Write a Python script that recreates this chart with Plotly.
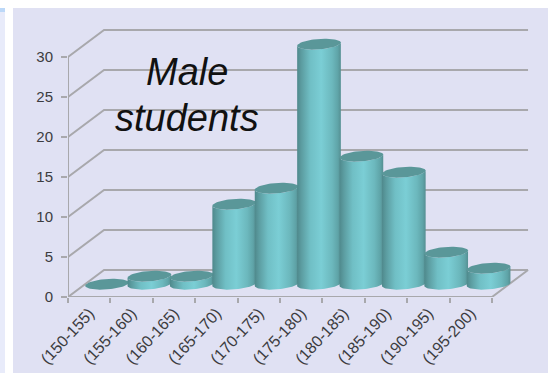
import numpy as np
import plotly.graph_objects as go

categories = ["(150-155)", "(155-160)", "(160-165)", "(165-170)", "(170-175)",
              "(175-180)", "(180-185)", "(185-190)", "(190-195)", "(195-200)"]
students = [0, 1, 1, 10, 12, 30, 16, 14, 4, 2]
y_ticks = [0, 5, 10, 15, 20, 25, 30]

W, H = 548, 373
GRID = "#a8a8ac"
TEXT = "#3c3c40"
PANEL = "#e0e1f3"
TOP_CAP = "#5a9799"
BODY_STOPS = [[0, "#4f898c"], [0.1, "#5c9da1"], [0.3, "#70bfc5"], [0.55, "#7bced5"],
              [0.8, "#6cb8bd"], [0.93, "#5fa4a8"], [1, "#558f92"]]

# Oblique projection of the floor depth, in axis units
DEPTH_X, DEPTH_Y = 0.85, 3.375
# Cylinders stand half way back on the floor
BAR_DX, BAR_DY = 0.42, 1.6
BAR_A, BAR_B, BAR_TILT = 0.515, 0.65, 0.2

n = len(categories)
x_left, x_right = -0.5, n - 0.5
fig = go.Figure()


def line(xs, ys, width=2):
    fig.add_trace(go.Scatter(x=xs, y=ys, mode="lines", showlegend=False, hoverinfo="skip",
                             line=dict(color=GRID, width=width)))


# Walls and floor
for v in y_ticks:
    line([x_left, x_left + DEPTH_X, x_right + DEPTH_X], [v, v + DEPTH_Y, v + DEPTH_Y])
line([x_left, x_left], [0, max(y_ticks)], 2)
line([x_left, x_right, x_right + DEPTH_X], [0, 0, DEPTH_Y], 2)

# Cylinders, left to right so each overlaps the one before
t = np.linspace(0, 2 * np.pi, 73)
arc = np.linspace(np.pi, 0, 37)
for i, v in enumerate(students):
    cx = i + BAR_DX
    top = v + BAR_DY
    if v > 0:
        bx = cx - BAR_A * np.cos(arc)
        by = BAR_DY - BAR_B * np.sin(arc) + BAR_TILT * np.cos(arc) * -1
        xs = np.concatenate([bx, bx[::-1]])
        ys = np.concatenate([by, by[::-1] + v])
        fig.add_trace(go.Scatter(
            x=xs, y=ys, mode="lines", fill="toself", showlegend=False, hoverinfo="skip",
            line=dict(width=0),
            fillgradient=dict(type="horizontal", colorscale=BODY_STOPS)))
    fig.add_trace(go.Scatter(
        x=cx + BAR_A * np.cos(t), y=top + BAR_B * np.sin(t) + BAR_TILT * np.cos(t),
        mode="lines", fill="toself", fillcolor=TOP_CAP, showlegend=False, hoverinfo="skip",
        line=dict(width=0)))

title_font = dict(family="Liberation Sans", size=38, color="#111111")
fig.add_annotation(x=2.3, y=28.1, text="<i>Male</i>", showarrow=False, font=title_font,
                   xanchor="center", yanchor="middle")
fig.add_annotation(x=2.3, y=22.4, text="<i>students</i>", showarrow=False, font=title_font,
                   xanchor="center", yanchor="middle")

# Page panel and the sliver of the neighbouring panel on the left
shapes = [
    dict(type="rect", xref="paper", yref="paper", layer="below", line_width=0, fillcolor=c,
         x0=(x0 - 68) / (W - 87), x1=(x1 - 68) / (W - 87),
         y0=(297 - y1) / (H - 96), y1=(297 - y0) / (H - 96))
    for x0, x1, y0, y1, c in [(13, W, 8, H, PANEL), (0, 5, 8, H, "#e8ebfa"), (0, 5, 8, 12, "#bcd8f8")]
]

fig.update_layout(
    width=W, height=H, autosize=False,
    margin=dict(l=68, r=19, t=20, b=76, autoexpand=False),
    paper_bgcolor="white", plot_bgcolor="rgba(0,0,0,0)",
    shapes=shapes, showlegend=False,
    font=dict(family="Liberation Sans", size=15, color=TEXT),
    xaxis=dict(range=[x_left, x_left + 461 / 42.4], showgrid=False, zeroline=False, showline=False,
               automargin=False,
               tickmode="array", tickvals=list(range(n)), ticktext=categories,
               tickangle=-47, ticks="", tickfont=dict(size=16, color=TEXT), ticklabelstandoff=3,
               minor=dict(tickmode="array", tickvals=[i - 0.5 for i in range(n + 1)],
                          ticks="outside", ticklen=5, tickcolor=GRID, tickwidth=1.5)),
    yaxis=dict(range=[0, 277 / 8], showgrid=False, zeroline=False, showline=False,
               automargin=False,
               tickmode="array", tickvals=y_ticks, ticks="outside", ticklen=6,
               tickcolor=GRID, tickwidth=1.5, tickfont=dict(size=15, color=TEXT),
               ticklabelstandoff=5),
)

fig.write_html("out.html", config=dict(displayModeBar=False))
